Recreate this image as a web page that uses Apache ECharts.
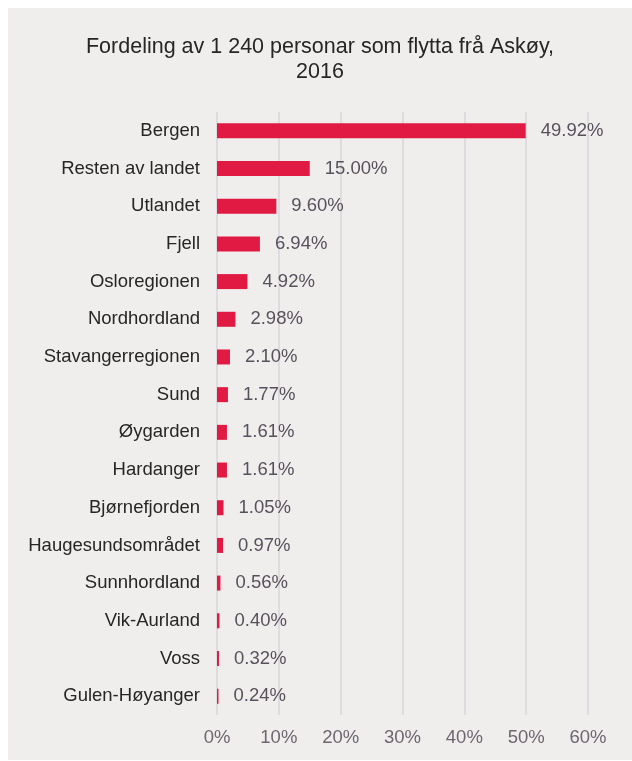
<!DOCTYPE html>
<html>
<head>
<meta charset="utf-8">
<script src="https://cdn.jsdelivr.net/npm/echarts@6/dist/echarts.min.js"></script>
<style>
  html, body { margin: 0; padding: 0; background: #ffffff; }
  #chart { position: absolute; left: 8px; top: 8px; width: 624px; height: 752px; }
</style>
</head>
<body>
<div id="chart"></div>
<script>
// categories top to bottom, as in the picture
const regions = [
  'Bergen', 'Resten av landet', 'Utlandet', 'Fjell', 'Osloregionen',
  'Nordhordland', 'Stavangerregionen', 'Sund', 'Øygarden', 'Hardanger',
  'Bjørnefjorden', 'Haugesundsområdet', 'Sunnhordland', 'Vik-Aurland',
  'Voss', 'Gulen-Høyanger'
]
const shares = [
  49.92, 15.0, 9.6, 6.94, 4.92, 2.98, 2.1, 1.77, 1.61, 1.61,
  1.05, 0.97, 0.56, 0.4, 0.32, 0.24
]
const titleText = 'Fordeling av 1 240 personar som flytta frå Askøy,\n2016'

const font = '"Liberation Sans", Arial, sans-serif'
const chart = echarts.init(document.getElementById('chart'))

chart.setOption({
  backgroundColor: '#f0eeed',
  animation: false,
  title: {
    text: titleText,
    left: 'center',
    top: 22,
    textStyle: {
      fontFamily: font,
      fontSize: 21.5,
      fontWeight: 'normal',
      color: '#262626',
      lineHeight: 25,
    },
  },
  grid: {
    left: 209,
    right: 44,
    top: 104,
    bottom: 45,
    containLabel: false,
  },
  xAxis: {
    type: 'value',
    min: 0,
    max: 60,
    interval: 10,
    axisLine: { show: false },
    axisTick: { show: false },
    splitLine: { lineStyle: { color: '#dad6da', width: 1.5 } },
    axisLabel: {
      margin: 13,
      fontFamily: font,
      fontSize: 18.5,
      color: '#6e6671',
      formatter: v => v + '%',
    },
  },
  yAxis: {
    type: 'category',
    inverse: true,
    data: regions,
    axisLine: { show: false },
    axisTick: { show: false },
    axisLabel: {
      margin: 17,
      fontFamily: font,
      fontSize: 18.5,
      color: '#262626',
    },
  },
  series: [{
    type: 'bar',
    data: shares,
    barWidth: 15,
    itemStyle: { color: '#e01a42' },
    label: {
      show: true,
      position: 'right',
      distance: 15,
      fontFamily: font,
      fontSize: 18.5,
      color: '#57515c',
      formatter: p => p.value.toFixed(2) + '%',
    },
  }],
})
</script>
</body>
</html>
